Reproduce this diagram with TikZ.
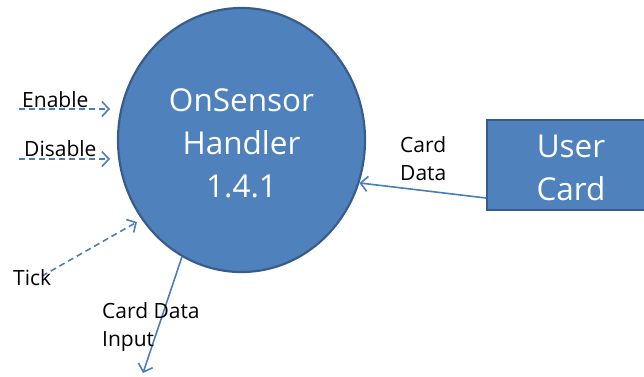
\documentclass[tikz,border=0pt]{standalone}
\usepackage{fontspec}
\setmainfont{Open Sans}
\usetikzlibrary{shapes.geometric,arrows.meta}
\definecolor{fillb}{HTML}{4F81BD}
\definecolor{edgeb}{HTML}{385D8A}
\definecolor{lineb}{HTML}{4A7EBB}
\newcommand\cstack[2]{\raisebox{0pt}[\height][\dimexpr\depth-#1\relax]{\begin{tabular}{@{}c@{}}#2\end{tabular}}}
\newcommand\lstack[1]{\begin{tabular}[t]{@{}l@{}}#1\end{tabular}}
\begin{document}
\begin{tikzpicture}[x=1pt,y=-1pt,
 bigtext/.style={text=white,font=\fontsize{31.5}{43}\selectfont},
 lbl/.style={font=\fontsize{21}{28.5}\selectfont, inner sep=0pt, anchor=base west, text=black},
 flow/.style={draw=lineb, line width=1.6pt, -{Straight Barb[length=7pt,width=15pt]}},
 dflow/.style={flow, dash pattern=on 6pt off 4pt}]
\useasboundingbox (0,0) rectangle (644,376);
\node[ellipse, draw=edgeb, line width=2.2pt, fill=fillb, minimum width=247pt, minimum height=264pt, inner sep=0pt, bigtext] (c) at (241.5,140) {\cstack{11pt}{OnSensor\\Handler\\1.4.1}};
\node[rectangle, draw=edgeb, line width=2.2pt, fill=fillb, minimum width=168pt, minimum height=90pt, inner sep=0pt, bigtext] (u) at (571,165) {\cstack{10pt}{User\\Card}};
\coordinate (e0) at (19,109);
\coordinate (e1) at (110,109);
\coordinate (d0) at (19,159);
\coordinate (d1) at (110,159);
\coordinate (t0) at (42,276);
\coordinate (t1) at (137,222);
\coordinate (i1) at (143,373);
\draw[dflow] (e0) -- (e1);
\draw[dflow] (d0) -- (d1);
\draw[dflow] (t0) -- (t1);
\draw[flow] (c.243) -- (i1);
\draw[flow] ([yshift=-33pt]u.west) -- (c.-20);
\node[lbl] (len) at (22,107) {Enable};
\node[lbl] (ldis) at (24,156) {Disable};
\node[lbl] (ltick) at (13,285) {Tick};
\node[lbl] (lin) at (102,318) {\lstack{Card Data\\Input}};
\node[lbl] (lcd) at (400,152) {\lstack{Card\\Data}};
\end{tikzpicture}
\end{document}
